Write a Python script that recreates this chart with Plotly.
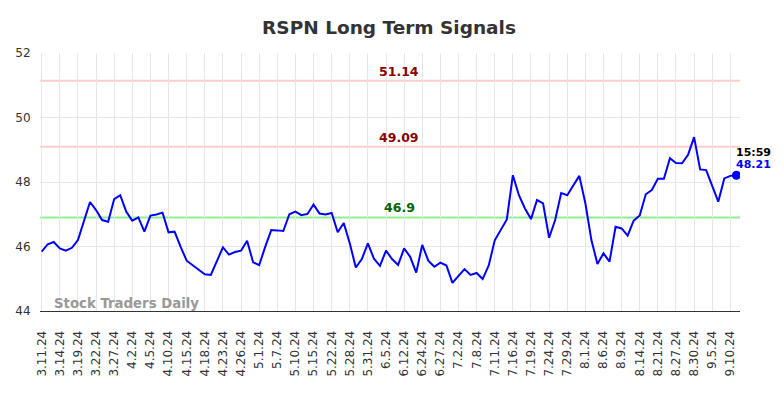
import plotly.graph_objects as go

title = "RSPN Long Term Signals"
values = [45.84, 46.07, 46.14, 45.94, 45.87, 45.96, 46.20, 46.82, 47.38, 47.13,
          46.82, 46.77, 47.47, 47.59, 47.08, 46.80, 46.90, 46.46, 46.96, 46.99,
          47.05, 46.44, 46.46, 45.99, 45.56, 45.42, 45.27, 45.14, 45.12, 45.53,
          45.97, 45.75, 45.83, 45.87, 46.18, 45.51, 45.42, 45.99, 46.51, 46.50,
          46.48, 47.00, 47.08, 46.97, 47.01, 47.30, 47.02, 46.99, 47.04, 46.44,
          46.73, 46.10, 45.35, 45.61, 46.10, 45.62, 45.40, 45.87, 45.61, 45.43,
          45.94, 45.68, 45.19, 46.05, 45.56, 45.37, 45.50, 45.41, 44.87, 45.09,
          45.30, 45.12, 45.18, 44.99, 45.41, 46.19, 46.51, 46.84, 48.21, 47.59,
          47.18, 46.85, 47.44, 47.34, 46.27, 46.82, 47.66, 47.59, 47.89, 48.19,
          47.34, 46.20, 45.46, 45.79, 45.53, 46.61, 46.56, 46.34, 46.80, 46.96,
          47.62, 47.75, 48.10, 48.10, 48.74, 48.59, 48.58, 48.84, 49.39, 48.39,
          48.37, 47.88, 47.39, 48.11, 48.19, 48.21]
tick_labels = ["3.11.24", "3.14.24", "3.19.24", "3.22.24", "3.27.24", "4.2.24", "4.5.24",
               "4.10.24", "4.15.24", "4.18.24", "4.23.24", "4.26.24", "5.1.24", "5.7.24",
               "5.10.24", "5.15.24", "5.22.24", "5.28.24", "5.31.24", "6.5.24", "6.12.24",
               "6.24.24", "6.27.24", "7.2.24", "7.8.24", "7.11.24", "7.16.24", "7.19.24",
               "7.24.24", "7.29.24", "8.1.24", "8.6.24", "8.9.24", "8.14.24", "8.21.24",
               "8.27.24", "8.30.24", "9.5.24", "9.10.24"]
tick_step = 3
resistance_levels = [51.14, 49.09]
support_levels = [46.9]
last_time = "15:59"
watermark = "Stock Traders Daily"

x = list(range(len(values)))
tickvals = [i * tick_step for i in range(len(tick_labels))]
font = "DejaVu Sans"

fig = go.Figure()
fig.add_trace(go.Scatter(x=x, y=values, mode="lines",
                         line=dict(color="#0000ff", width=2), hoverinfo="skip"))
fig.add_trace(go.Scatter(x=[x[-1]], y=[values[-1]], mode="markers",
                         marker=dict(color="#0000ff", size=9), hoverinfo="skip"))

label_x = 59.2
for lv in resistance_levels:
    fig.add_shape(type="line", xref="paper", x0=0, x1=1, y0=lv, y1=lv,
                  line=dict(color="#ffcccc", width=2), layer="below")
    fig.add_annotation(x=label_x, y=lv, text=f"<b>{lv}</b>", showarrow=False,
                       yanchor="bottom", yshift=0,
                       font=dict(family=font, size=12.5, color="#8b0000"))
for lv in support_levels:
    fig.add_shape(type="line", xref="paper", x0=0, x1=1, y0=lv, y1=lv,
                  line=dict(color="#90ee90", width=2), layer="below")
    fig.add_annotation(x=label_x, y=lv, text=f"<b>{lv}</b>", showarrow=False,
                       yanchor="bottom", yshift=0,
                       font=dict(family=font, size=12.5, color="#006400"))

fig.add_annotation(x=x[-1], y=values[-1], text=f"<b>{last_time}</b>", showarrow=False,
                   xshift=17, yshift=23, font=dict(family=font, size=11, color="#000000"))
fig.add_annotation(x=x[-1], y=values[-1], text=f"<b>{values[-1]}</b>", showarrow=False,
                   xshift=17, yshift=11, font=dict(family=font, size=11, color="#0000ff"))
fig.add_annotation(xref="paper", yref="paper", x=0.017, y=0.0, xanchor="left", yanchor="bottom",
                   yshift=-2, text=f"<b>{watermark}</b>", showarrow=False,
                   font=dict(family=font, size=13.3, color="#999999"))

fig.update_layout(
    width=776, height=390,
    margin=dict(l=32, r=44, t=45, b=87, autoexpand=False),
    paper_bgcolor="white", plot_bgcolor="white",
    showlegend=False,
    title=dict(text=f"<b>{title}</b>", x=0.491, xanchor="center", y=0.951, yanchor="middle",
               font=dict(family=font, size=18.5, color="#333333")),
    font=dict(family=font, color="#333333"),
)
fig.update_xaxes(range=[-0.28, 115.6], tickvals=tickvals, ticktext=tick_labels,
                 tickangle=-90, tickfont=dict(size=12, color="#333333"), automargin=False,
                 showgrid=True, gridcolor="#e6e6e6", gridwidth=1,
                 showline=True, linecolor="#333333", linewidth=1,
                 ticks="outside", ticklen=14, tickcolor="rgba(0,0,0,0)", zeroline=False)
fig.update_yaxes(range=[44, 52], tickvals=[44, 46, 48, 50, 52], automargin=False,
                 tickfont=dict(size=12, color="#333333"),
                 showgrid=True, gridcolor="#e6e6e6", gridwidth=1, zeroline=False,
                 ticks="outside", ticklen=6, tickcolor="rgba(0,0,0,0)")

fig.write_html("out.html")
